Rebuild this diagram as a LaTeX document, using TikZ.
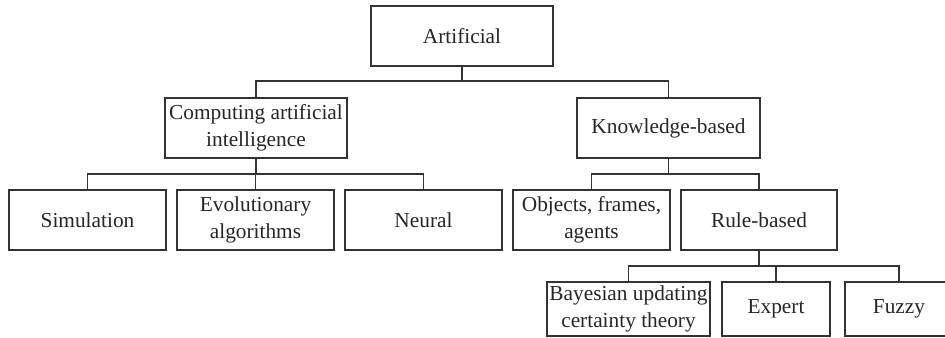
\documentclass[tikz,border=0pt]{standalone}
\usepackage{fontspec}
\setmainfont{Liberation Serif}
\begin{document}
\begin{tikzpicture}[x=0.75pt,y=-0.75pt,
  box/.style={draw=black!80,line width=1.3pt,rectangle,inner sep=0pt,align=center,
    font=\fontsize{16}{20}\selectfont,text=black!85},
  link/.style={draw=black!80,line width=1.1pt}]
\useasboundingbox (0,0) rectangle (945,338);
\clip (0,0) rectangle (945,338);

% top level
\node[box,minimum width=182*0.75pt,minimum height=60*0.75pt] (art) at (462,36) {Artificial};

% second level
\node[box,minimum width=182*0.75pt,minimum height=60*0.75pt] (comp) at (256,128) {Computing artificial\\intelligence};
\node[box,minimum width=183*0.75pt,minimum height=60*0.75pt] (know) at (668.5,128) {Knowledge-based};

% third level
\node[box,minimum width=157*0.75pt,minimum height=60*0.75pt] (sim) at (87.5,220) {Simulation};
\node[box,minimum width=157*0.75pt,minimum height=60*0.75pt] (evo) at (255.5,220) {Evolutionary\\algorithms};
\node[box,minimum width=157*0.75pt,minimum height=60*0.75pt] (neu) at (423.5,220) {Neural};
\node[box,minimum width=157*0.75pt,minimum height=60*0.75pt] (obj) at (591.5,220) {Objects, frames,\\agents};
\node[box,minimum width=156*0.75pt,minimum height=60*0.75pt] (rule) at (759,220) {Rule-based};

% fourth level
\node[box,minimum width=163*0.75pt,minimum height=54*0.75pt] (bay) at (628.5,309) {Bayesian updating\\certainty theory};
\node[box,minimum width=108*0.75pt,minimum height=54*0.75pt] (exp) at (776,309) {Expert};
\node[box,minimum width=108*0.75pt,minimum height=54*0.75pt] (fuz) at (899,309) {Fuzzy};

% connectors
\draw[link] (art.south) -- ++(0,14) coordinate (artbar);
\draw[link] (artbar) -| (comp.north);
\draw[link] (artbar) -| (know.north);

\draw[link] (comp.south) -- ++(0,15) coordinate (compbar);
\draw[link] (compbar) -| (sim.north);
\draw[link] (compbar) -| (evo.north);
\draw[link] (compbar) -| (neu.north);

\draw[link] (know.south) -- ++(0,15) coordinate (knowbar);
\draw[link] (knowbar) -| (obj.north);
\draw[link] (knowbar) -| (rule.north);

\draw[link] (rule.south) -- ++(0,15) coordinate (rulebar);
\draw[link] (rulebar) -| (bay.north);
\draw[link] (rulebar) -| (exp.north);
\draw[link] (rulebar) -| (fuz.north);
\end{tikzpicture}
\end{document}
